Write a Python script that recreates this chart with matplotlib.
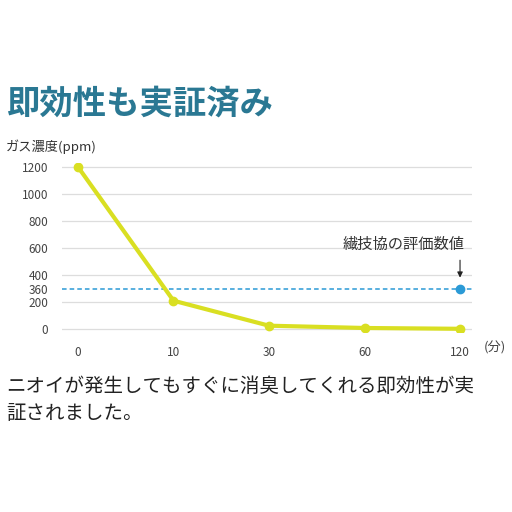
import matplotlib
matplotlib.use("Agg")
import matplotlib.pyplot as plt

plt.rcParams['font.family'] = ['Noto Sans CJK JP', 'DejaVu Sans']

x_labels = ["0", "10", "30", "60", "120"]
gas_ppm = [1200, 210, 25, 8, 2]
y_ticks = [0, 200, 400, 600, 800, 1000, 1200]
standard_value = 360

fig = plt.figure(figsize=(5.12, 5.12), dpi=100)
fig.patch.set_facecolor('white')
fig.text(0.012, 0.778, "即効性も実証済み", fontsize=24, fontweight='bold', color='#2a7893')
fig.text(0.012, 0.705, "ガス濃度(ppm)", fontsize=9.5, color='#333333')

ax = fig.add_axes([0.121, 0.352, 0.801, 0.33])
xs = list(range(len(x_labels)))
ax.set_xlim(-0.1675, 4.126)
ax.set_ylim(-20, 1230)
for t in y_ticks:
    ax.axhline(t, color='#dddddd', lw=0.9, zorder=0)
ax.axhline(standard_value - 60, color='#2b9ad6', lw=1.1, ls=(0, (3, 2)), zorder=1)
ax.plot(xs, gas_ppm, color='#d9df22', lw=3, marker='o', ms=6, zorder=3)
ax.plot([4], [standard_value - 60], 'o', color='#2b9ad6', ms=6, zorder=4)
ax.annotate("", xy=(4, 360), xytext=(4, 530),
            arrowprops=dict(arrowstyle='-|>', color='#222222', lw=0.8, mutation_scale=8))
ax.text(4.05, 560, "繊技協の評価数値", ha='right', va='bottom', fontsize=11, color='#333333')

ax.set_yticks(y_ticks + [standard_value - 60])
ax.set_yticklabels([str(t) for t in y_ticks] + [str(standard_value)])
labs = ax.get_yticklabels()
labs[-1].set_color('#2b9ad6')
ax.set_xticks(xs)
ax.set_xticklabels(x_labels)
ax.tick_params(length=0, labelsize=8.5, colors='#444444', pad=10)
ax.tick_params(axis='x', pad=10)
for s in ax.spines.values():
    s.set_visible(False)
fig.text(0.945, 0.313, "(分)", fontsize=9.5, color='#444444')

fig.text(0.012, 0.235, "ニオイが発生してもすぐに消臭してくれる即効性が実", fontsize=14, color='#222222')
fig.text(0.012, 0.182, "証されました。", fontsize=14, color='#222222')

fig.savefig("out.png", dpi=100, facecolor='white')
